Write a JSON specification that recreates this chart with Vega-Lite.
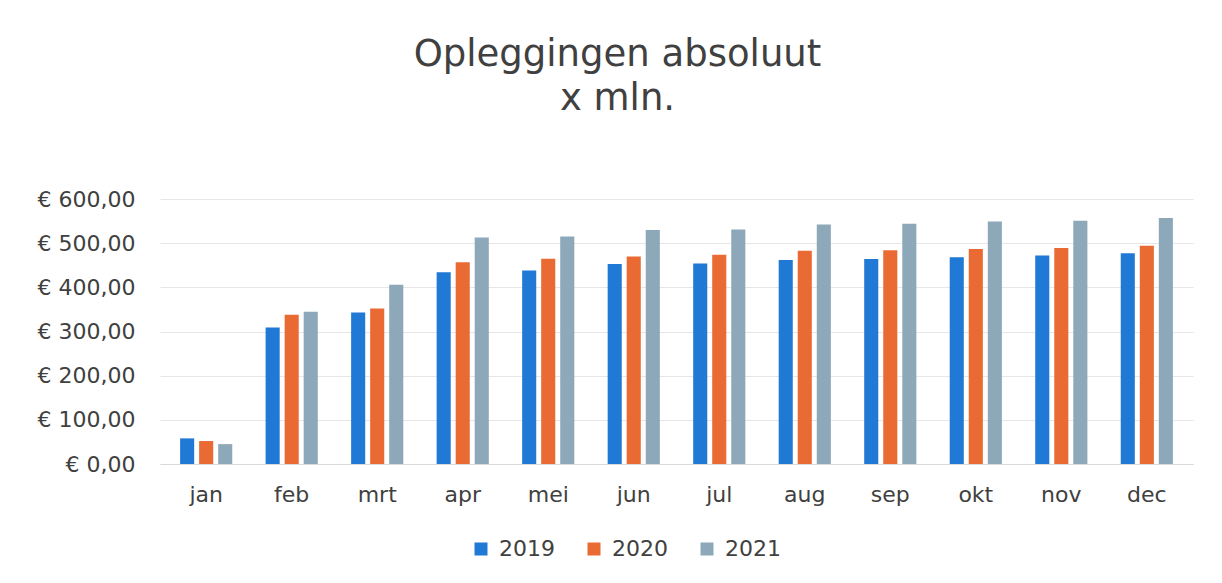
{
  "$schema": "https://vega.github.io/schema/vega-lite/v6.json",
  "autosize": "none",
  "width": 1033,
  "height": 265,
  "padding": {"left": 160, "top": 199, "right": 29, "bottom": 119},
  "background": "white",
  "title": {
    "text": ["Opleggingen absoluut", "x mln."],
    "font": "DejaVu Sans",
    "fontSize": 37,
    "fontWeight": "normal",
    "color": "#404040",
    "anchor": "middle",
    "dx": -59,
    "offset": 70,
    "lineHeight": 44
  },
  "data": {
    "values": [
      {"maand": "jan", "jaar": "2019", "waarde": 58},
      {"maand": "jan", "jaar": "2020", "waarde": 52},
      {"maand": "jan", "jaar": "2021", "waarde": 45},
      {"maand": "feb", "jaar": "2019", "waarde": 309},
      {"maand": "feb", "jaar": "2020", "waarde": 338},
      {"maand": "feb", "jaar": "2021", "waarde": 345},
      {"maand": "mrt", "jaar": "2019", "waarde": 343},
      {"maand": "mrt", "jaar": "2020", "waarde": 352},
      {"maand": "mrt", "jaar": "2021", "waarde": 406},
      {"maand": "apr", "jaar": "2019", "waarde": 434},
      {"maand": "apr", "jaar": "2020", "waarde": 457},
      {"maand": "apr", "jaar": "2021", "waarde": 513},
      {"maand": "mei", "jaar": "2019", "waarde": 438},
      {"maand": "mei", "jaar": "2020", "waarde": 465},
      {"maand": "mei", "jaar": "2021", "waarde": 515},
      {"maand": "jun", "jaar": "2019", "waarde": 453},
      {"maand": "jun", "jaar": "2020", "waarde": 470},
      {"maand": "jun", "jaar": "2021", "waarde": 530},
      {"maand": "jul", "jaar": "2019", "waarde": 454},
      {"maand": "jul", "jaar": "2020", "waarde": 474},
      {"maand": "jul", "jaar": "2021", "waarde": 531},
      {"maand": "aug", "jaar": "2019", "waarde": 462},
      {"maand": "aug", "jaar": "2020", "waarde": 483},
      {"maand": "aug", "jaar": "2021", "waarde": 542},
      {"maand": "sep", "jaar": "2019", "waarde": 464},
      {"maand": "sep", "jaar": "2020", "waarde": 484},
      {"maand": "sep", "jaar": "2021", "waarde": 544},
      {"maand": "okt", "jaar": "2019", "waarde": 468},
      {"maand": "okt", "jaar": "2020", "waarde": 487},
      {"maand": "okt", "jaar": "2021", "waarde": 549},
      {"maand": "nov", "jaar": "2019", "waarde": 472},
      {"maand": "nov", "jaar": "2020", "waarde": 489},
      {"maand": "nov", "jaar": "2021", "waarde": 551},
      {"maand": "dec", "jaar": "2019", "waarde": 477},
      {"maand": "dec", "jaar": "2020", "waarde": 494},
      {"maand": "dec", "jaar": "2021", "waarde": 557}
    ]
  },
  "mark": {"type": "bar"},
  "encoding": {
    "x": {
      "field": "maand",
      "type": "nominal",
      "sort": null,
      "scale": {"paddingInner": 0.39, "paddingOuter": 0.235},
      "axis": {
        "title": null,
        "labelAngle": 0,
        "ticks": false,
        "domain": true,
        "domainColor": "#d9d9d9",
        "labelFont": "DejaVu Sans",
        "labelFontSize": 22,
        "labelColor": "#404040",
        "labelPadding": 20,
        "grid": false
      }
    },
    "xOffset": {
      "field": "jaar",
      "type": "nominal",
      "scale": {"paddingInner": 0.26, "paddingOuter": 0}
    },
    "y": {
      "field": "waarde",
      "type": "quantitative",
      "scale": {"domain": [0, 600], "nice": false},
      "axis": {
        "title": null,
        "values": [0, 100, 200, 300, 400, 500, 600],
        "labelExpr": "'€ ' + replace(format(datum.value, '.2f'), '.', ',')",
        "ticks": false,
        "domain": false,
        "grid": true,
        "gridColor": "#e6e6e6",
        "labelFont": "DejaVu Sans",
        "labelFontSize": 22,
        "labelColor": "#404040",
        "labelPadding": 25
      }
    },
    "color": {
      "field": "jaar",
      "type": "nominal",
      "scale": {"domain": ["2019", "2020", "2021"], "range": ["#2179D6", "#EA6A33", "#8DA8B9"]},
      "legend": {
        "title": null,
        "orient": "none",
        "direction": "horizontal",
        "legendX": 310,
        "legendY": 339,
        "padding": 0,
        "symbolType": "square",
        "symbolSize": 169,
        "symbolStrokeWidth": 0,
        "labelFont": "DejaVu Sans",
        "labelFontSize": 22,
        "labelColor": "#404040",
        "labelOffset": 7,
        "columnPadding": 28
      }
    }
  },
  "config": {
    "view": {"stroke": null}
  }
}
